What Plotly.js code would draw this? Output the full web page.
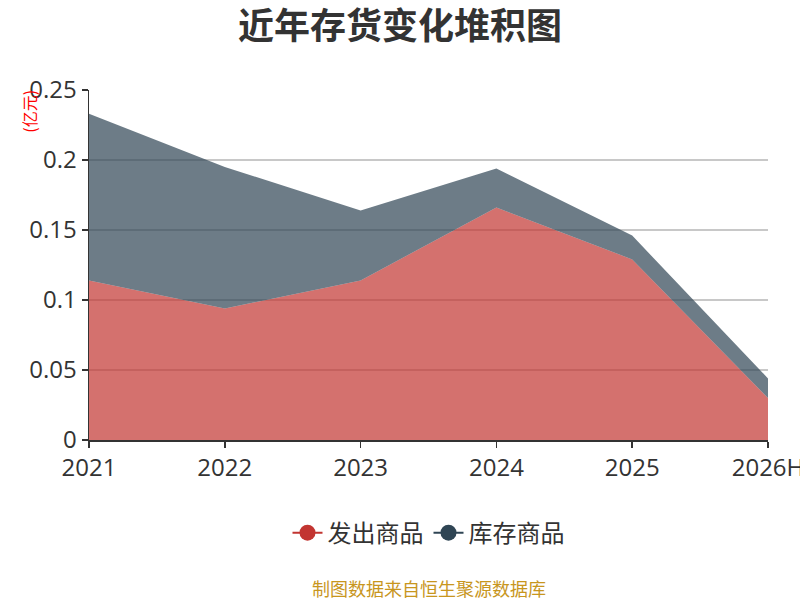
<!DOCTYPE html>
<html>
<head>
<meta charset="utf-8">
<script src="https://cdn.plot.ly/plotly-3.0.1.min.js"></script>
<style>html,body{margin:0;padding:0;background:#fff;}#chart{width:800px;height:600px;}</style>
</head>
<body>
<div id="chart"></div>
<script>
const categories = ["2021", "2022", "2023", "2024", "2025", "2026H"];
const shippedGoods = [0.114, 0.094, 0.114, 0.166, 0.129, 0.030];
const inventoryGoods = [0.119, 0.101, 0.050, 0.028, 0.017, 0.014];
const seriesNames = ["发出商品", "库存商品"];
const yTicks = [0, 0.05, 0.1, 0.15, 0.2, 0.25];
const yTickLabels = ["0", "0.05", "0.1", "0.15", "0.2", "0.25"];

const FONT = '"Noto Sans CJK SC", "Noto Sans", sans-serif';
const NUMFONT = '"Open Sans", "Noto Sans", sans-serif';

const traces = [
  {
    x: categories, y: shippedGoods, name: seriesNames[0], type: 'scatter', mode: 'lines',
    stackgroup: 'one', line: {width: 0, color: '#c23531'}, fillcolor: 'rgba(194,53,49,0.7)',
    showlegend: false
  },
  {
    x: categories, y: inventoryGoods, name: seriesNames[1], type: 'scatter', mode: 'lines',
    stackgroup: 'one', line: {width: 0, color: '#2f4554'}, fillcolor: 'rgba(47,69,84,0.7)',
    showlegend: false
  },
  {
    x: [null], y: [null], name: seriesNames[0], type: 'scatter', mode: 'lines+markers',
    line: {color: '#c23531', width: 2}, marker: {color: '#c23531', size: 22}
  },
  {
    x: [null], y: [null], name: seriesNames[1], type: 'scatter', mode: 'lines+markers',
    line: {color: '#2f4554', width: 2}, marker: {color: '#2f4554', size: 22}
  }
];

const layout = {
  width: 800, height: 600,
  margin: {l: 89, r: 32, t: 90, b: 160},
  paper_bgcolor: '#fff', plot_bgcolor: '#fff',
  font: {family: FONT, color: '#333'},
  title: {text: '<b>近年存货变化堆积图</b>', x: 0.5, xanchor: 'center', y: 0.956, yanchor: 'middle',
          font: {family: FONT, size: 36, color: '#333'}},
  xaxis: {
    type: 'category', range: [0, 5], showgrid: false, zeroline: false,
    showline: true, linecolor: '#333', linewidth: 1.5,
    ticks: 'outside', ticklen: 6, tickcolor: '#333', tickwidth: 1.5,
    tickfont: {family: NUMFONT, size: 24, color: '#333'}, fixedrange: true
  },
  yaxis: {
    range: [0, 0.25], tickvals: yTicks, ticktext: yTickLabels,
    showgrid: true, gridcolor: '#c8c8c8', gridwidth: 1.5, zeroline: false,
    showline: true, linecolor: '#333', linewidth: 1.5,
    ticks: 'outside', ticklen: 6, tickcolor: '#333', tickwidth: 1.5,
    tickfont: {family: NUMFONT, size: 24, color: '#333'}, fixedrange: true
  },
  legend: {
    orientation: 'h', x: 0.5, xanchor: 'center', y: -0.266, yanchor: 'middle',
    traceorder: 'normal',
    font: {family: FONT, size: 24, color: '#333'}
  },
  annotations: [
    {text: '(亿元)', xref: 'paper', yref: 'paper', x: -0.088, y: 1.006, xanchor: 'center', yanchor: 'top',
     textangle: -90, showarrow: false, font: {family: FONT, size: 16, color: '#ff0000'}},
    {text: '制图数据来自恒生聚源数据库', xref: 'paper', yref: 'paper', x: 0.5, y: -0.423, xanchor: 'center', yanchor: 'middle',
     showarrow: false, font: {family: FONT, size: 18, color: '#c8961e'}}
  ],
  hovermode: false
};

Plotly.newPlot('chart', traces, layout, {displayModeBar: false, staticPlot: true});
</script>
</body>
</html>
